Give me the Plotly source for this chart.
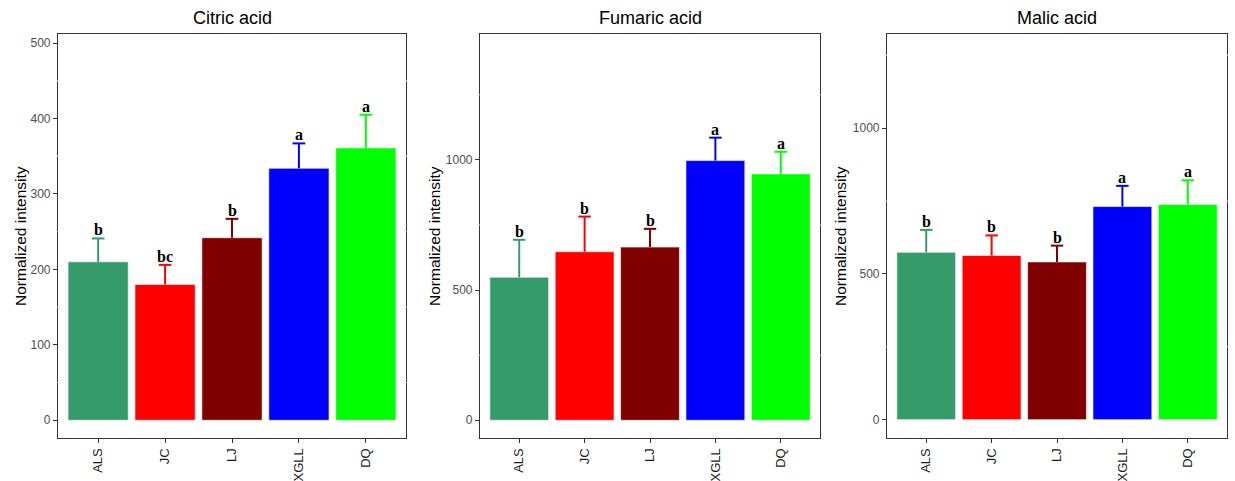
import plotly.graph_objects as go

# Group labels and bar colours
groups = ["ALS", "JC", "LJ", "XGLL", "DQ"]
colors = ["#359B6B", "#FF0000", "#800000", "#0000FF", "#00FF00"]

# Citric acid: means, upper error-bar ends, significance letters
citric_mean = [210, 180, 242, 334, 361]
citric_upper = [241, 206, 267, 367, 405]
citric_letters = ["b", "bc", "b", "a", "a"]

# Fumaric acid
fumaric_mean = [549, 647, 665, 997, 946]
fumaric_upper = [693, 782, 735, 1085, 1031]
fumaric_letters = ["b", "b", "b", "a", "a"]

# Malic acid
malic_mean = [574, 563, 541, 731, 738]
malic_upper = [651, 632, 597, 802, 821]
malic_letters = ["b", "b", "b", "a", "a"]

panels = [
    dict(title="Citric acid", mean=citric_mean, upper=citric_upper, letters=citric_letters,
         xdom=[58, 406], yrange=[-23.5, 512], ticks=[0, 100, 200, 300, 400, 500],
         minor=[50, 150, 250, 350, 450], ytitle_x=20),
    dict(title="Fumaric acid", mean=fumaric_mean, upper=fumaric_upper, letters=fumaric_letters,
         xdom=[480, 820], yrange=[-68, 1483], ticks=[0, 500, 1000],
         minor=[250, 750, 1250], ytitle_x=434),
    dict(title="Malic acid", mean=malic_mean, upper=malic_upper, letters=malic_letters,
         xdom=[887, 1227], yrange=[-63, 1323], ticks=[0, 500, 1000],
         minor=[250, 750, 1250], ytitle_x=840),
]

W, H = 1235, 481
y_top, y_bot = 34, 438
ydom = [(H - y_bot) / H, (H - y_top) / H]
BAR_W = 0.9
CAP_HALF = 0.095
pos = list(range(len(groups)))

fig = go.Figure()
annotations = []
shapes = []
FONT = "Liberation Sans, Arial, sans-serif"

for i, p in enumerate(panels, start=1):
    xa = "x" if i == 1 else f"x{i}"
    ya = "y" if i == 1 else f"y{i}"
    # bars
    for k, (c, m) in enumerate(zip(colors, p["mean"])):
        fig.add_trace(go.Bar(
            x=[pos[k]], y=[m], xaxis=xa, yaxis=ya, width=BAR_W, showlegend=False,
            marker=dict(color=c, line=dict(color="rgba(255,255,255,0.6)", width=1)),
        ))
    # upper-only error bars: whisker plus top cap
    for k, (c, m, u) in enumerate(zip(colors, p["mean"], p["upper"])):
        x0 = pos[k]
        fig.add_trace(go.Scatter(
            x=[x0, x0, None, x0 - CAP_HALF, x0 + CAP_HALF],
            y=[m, u, None, u, u], xaxis=xa, yaxis=ya, mode="lines",
            line=dict(color=c, width=2), showlegend=False, hoverinfo="skip",
        ))
    # significance letters
    for k, (u, lab) in enumerate(zip(p["upper"], p["letters"])):
        annotations.append(dict(
            x=pos[k], y=u, xref=xa, yref=ya, text=f"<b>{lab}</b>", showarrow=False,
            yanchor="bottom", yshift=-2,
            font=dict(family="Liberation Serif, Times New Roman, serif", size=16, color="black"),
        ))
    # panel title
    annotations.append(dict(
        x=(p["xdom"][0] + p["xdom"][1]) / 2 / W, y=1 - 18.5 / H, xref="paper", yref="paper",
        text=p["title"], showarrow=False, xanchor="center", yanchor="middle",
        font=dict(family=FONT, size=18, color="black"),
    ))
    # y-axis title
    annotations.append(dict(
        x=p["ytitle_x"] / W, y=1 - (y_top + y_bot) / 2 / H, xref="paper", yref="paper",
        text="Normalized intensity", showarrow=False, textangle=-90,
        xanchor="center", yanchor="middle",
        font=dict(family=FONT, size=15.5, color="black"),
    ))
    # faint minor grid marks breaking the panel border
    for v in p["minor"]:
        for edge in p["xdom"]:
            shapes.append(dict(
                type="line", xref="paper", yref=ya, layer="above",
                x0=(edge - 1.5) / W, x1=(edge + 1.5) / W, y0=v, y1=v,
                line=dict(color="rgba(255,255,255,0.8)", width=1),
            ))

    axis_common = dict(showline=True, mirror=True, linecolor="#333333", linewidth=1.2,
                       ticks="outside", ticklen=4, tickcolor="#333333", tickwidth=1.2,
                       showgrid=False, zeroline=False, automargin=False)
    fig.update_layout({
        ("xaxis" if i == 1 else f"xaxis{i}"): dict(
            domain=[p["xdom"][0] / W, p["xdom"][1] / W], anchor=ya,
            range=[-0.6, len(groups) - 0.4], tickmode="array",
            tickvals=pos, ticktext=groups, tickangle=-90,
            tickfont=dict(family=FONT, size=13, color="#1a1a1a"),
            **axis_common),
        ("yaxis" if i == 1 else f"yaxis{i}"): dict(
            domain=ydom, anchor=xa, range=p["yrange"], tickmode="array",
            tickvals=p["ticks"],
            tickfont=dict(family=FONT, size=12, color="#4d4d4d"),
            **axis_common),
    })

fig.update_layout(
    width=W, height=H, margin=dict(l=0, r=0, t=0, b=0),
    paper_bgcolor="white", plot_bgcolor="white",
    annotations=annotations, shapes=shapes,
)

fig.write_html("out.html")
